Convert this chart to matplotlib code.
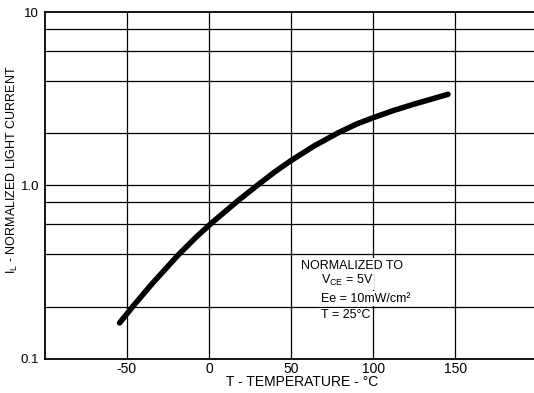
import matplotlib
matplotlib.use("Agg")
import matplotlib.pyplot as plt

plt.rcParams['font.family'] = ['Liberation Sans', 'DejaVu Sans']

# curve (T in degC, normalized light current)
temps = [-54.5, -46.5, -35, -18.6, -8, 1, 17.5, 29.9, 40, 50, 64,
         78.5, 90, 100, 112, 125, 135, 145.6]
current = [0.161, 0.2, 0.269, 0.399, 0.502, 0.601, 0.815, 1.01, 1.197, 1.393, 1.69,
           2.01, 2.265, 2.46, 2.70, 2.95, 3.14, 3.36]

x_ticks = [-50, 0, 50, 100, 150]
y_grid = [0.2, 0.4, 0.6, 0.8, 1.0, 2, 4, 6, 8]
y_ticks = [0.1, 1.0, 10]
y_labels = ["0.1", "1.0", "10"]

note_lines = ["NORMALIZED TO", "V$_\\mathregular{CE}$ = 5V", "Ee = 10mW/cm²", "T = 25°C"]
note_x = [55.8, 68, 68, 68]
note_y = [0.345, 0.282, 0.222, 0.179]

fig = plt.figure(figsize=(5.34, 3.93), dpi=100)
ax = fig.add_axes([0.084, 0.087, 0.916, 0.882])

ax.set_yscale('log')
ax.set_xlim(-100, 198)
ax.set_ylim(0.1, 10)

for v in x_ticks:
    ax.axvline(v, color='black', lw=0.9, zorder=1)
for v in y_grid:
    ax.axhline(v, color='black', lw=0.9, zorder=1)

ax.plot(temps, current, color='black', lw=4, solid_capstyle='round',
        solid_joinstyle='round', zorder=3)

ax.set_xticks(x_ticks)
ax.set_xticklabels([str(t) for t in x_ticks], fontsize=10)
ax.set_yticks(y_ticks)
ax.set_yticklabels(y_labels, fontsize=9.5)
ax.minorticks_off()
ax.tick_params(axis='x', length=0, pad=2)
ax.tick_params(axis='y', length=0, pad=4)

ax.spines['right'].set_visible(False)
for s in ['left', 'bottom', 'top']:
    ax.spines[s].set_linewidth(1.3)

# labels placed in figure pixels to match the reference layout
fig.text(302 / 534, 1 - 382 / 393, "T - TEMPERATURE - °C", fontsize=10,
         ha='center', va='center')
fig.text(12 / 534, 1 - 170 / 393, "I$_\\mathregular{L}$ - NORMALIZED LIGHT CURRENT",
         fontsize=9, ha='center', va='center', rotation=90)

box = dict(facecolor='white', edgecolor='none', pad=1)
for txt, tx, ty in zip(note_lines, note_x, note_y):
    ax.text(tx, ty, txt, fontsize=9, ha='left', va='center', bbox=box, zorder=4)

fig.savefig("out.png", dpi=100)
